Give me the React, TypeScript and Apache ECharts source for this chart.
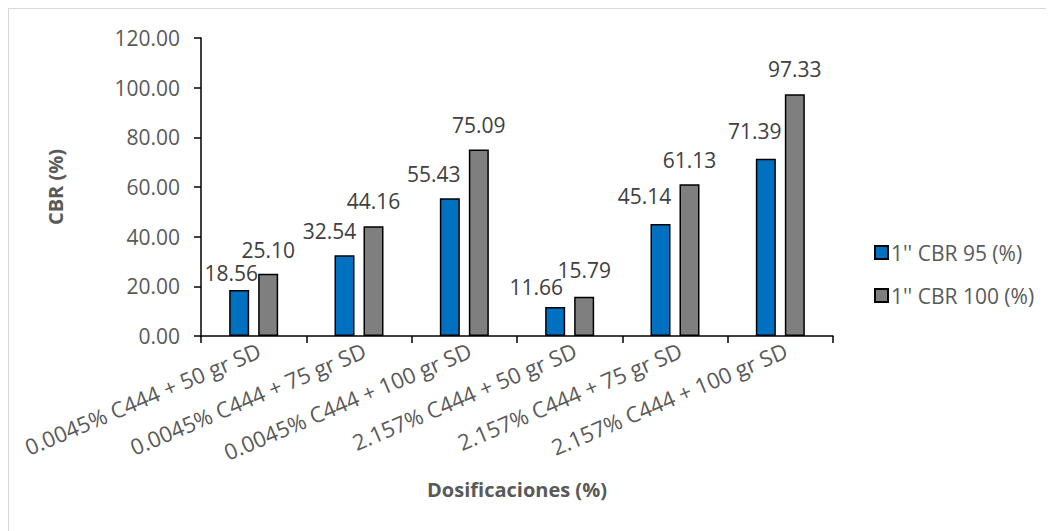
import React, { useEffect, useRef } from "react";
import * as echarts from "echarts";

const categories = [
  "0.0045% C444 + 50 gr SD",
  "0.0045% C444 + 75 gr SD",
  "0.0045% C444 + 100 gr SD",
  "2.157% C444 + 50 gr SD",
  "2.157% C444 + 75 gr SD",
  "2.157% C444 + 100 gr SD",
];
const cbr95 = [18.56, 32.54, 55.43, 11.66, 45.14, 71.39];
const cbr100 = [25.1, 44.16, 75.09, 15.79, 61.13, 97.33];
const seriesNames = ["1'' CBR 95 (%)", "1'' CBR 100 (%)"];
const yTicks = [0, 20, 40, 60, 80, 100, 120];

// label nudges (as placed in the reference)
const blueLabelDx = [-8, -15, -16, -19, -16, -11];
const blueLabelGap = [6, 14, 14, 10, 17, 17];
const grayLabelGap = [13, 15, 14, 16, 14, 15];

const FONT = "'Open Sans', 'Liberation Sans', sans-serif";

export default function App() {
  const ref = useRef<HTMLDivElement>(null);
  useEffect(() => {
    if (!ref.current) return;
    const chart = echarts.init(ref.current, undefined, { renderer: "svg" });
    const labelBase = {
      show: true,
      position: "top",
      fontFamily: FONT,
      fontSize: 21,
      color: "#404040",
      formatter: (p: any) => Number(p.value).toFixed(2),
    };
    chart.setOption({
      animation: false,
      textStyle: { fontFamily: FONT },
      grid: { left: 192, top: 29, width: 632, height: 298 },
      legend: {
        orient: "vertical",
        left: 860,
        top: 228,
        itemWidth: 13,
        itemHeight: 13,
        itemGap: 22,
        icon: "rect",
        textStyle: { fontFamily: FONT, fontSize: 21, color: "#595959", padding: [0, 0, 0, -2] },
        data: seriesNames,
      },
      xAxis: {
        type: "category",
        data: categories,
        boundaryGap: true,
        name: "Dosificaciones (%)",
        nameLocation: "middle",
        nameGap: 143,
        nameTextStyle: { fontFamily: FONT, fontSize: 20, fontWeight: "bold", color: "#595959" },
        axisLine: { lineStyle: { color: "#000", width: 1.5 } },
        axisTick: { show: true, length: 7, alignWithLabel: false, lineStyle: { color: "#000", width: 1.5 } },
        axisLabel: {
          interval: 0,
          rotate: 23,
          margin: 15,
          padding: [0, -6, 0, 0],
          fontFamily: FONT,
          fontSize: 22,
          color: "#595959",
        },
        splitLine: { show: false },
      },
      yAxis: {
        type: "value",
        min: yTicks[0],
        max: yTicks[yTicks.length - 1],
        interval: 20,
        name: "CBR (%)",
        nameLocation: "middle",
        nameGap: 136,
        nameRotate: 90,
        nameTextStyle: { fontFamily: FONT, fontSize: 20, fontWeight: "bold", color: "#595959" },
        axisLine: { show: true, lineStyle: { color: "#000", width: 1.5 } },
        axisTick: { show: true, length: 7, lineStyle: { color: "#000", width: 1.5 } },
        axisLabel: {
          margin: 21,
          fontFamily: FONT,
          fontSize: 21,
          color: "#595959",
          formatter: (v: number) => v.toFixed(2),
        },
        splitLine: { show: false },
      },
      series: [
        {
          name: seriesNames[0],
          type: "bar",
          barWidth: 20,
          barGap: "45%",
          itemStyle: { color: "#0070C0", borderColor: "#000", borderWidth: 1.5 },
          data: cbr95.map((v, i) => ({
            value: v,
            label: { ...labelBase, distance: blueLabelGap[i], offset: [blueLabelDx[i], 0] },
          })),
        },
        {
          name: seriesNames[1],
          type: "bar",
          barWidth: 20,
          barGap: "45%",
          itemStyle: { color: "#7F7F7F", borderColor: "#000", borderWidth: 1.5 },
          data: cbr100.map((v, i) => ({
            value: v,
            label: { ...labelBase, distance: grayLabelGap[i] },
          })),
        },
      ],
    });
    return () => chart.dispose();
  }, []);
  return (
    <div style={{ borderLeft: "1px solid #D9D9D9", borderTop: "1px solid #D9D9D9", width: 1046, height: 523, boxSizing: "border-box" }}>
      <div ref={ref} style={{ width: 1045, height: 522 }} />
    </div>
  );
}
